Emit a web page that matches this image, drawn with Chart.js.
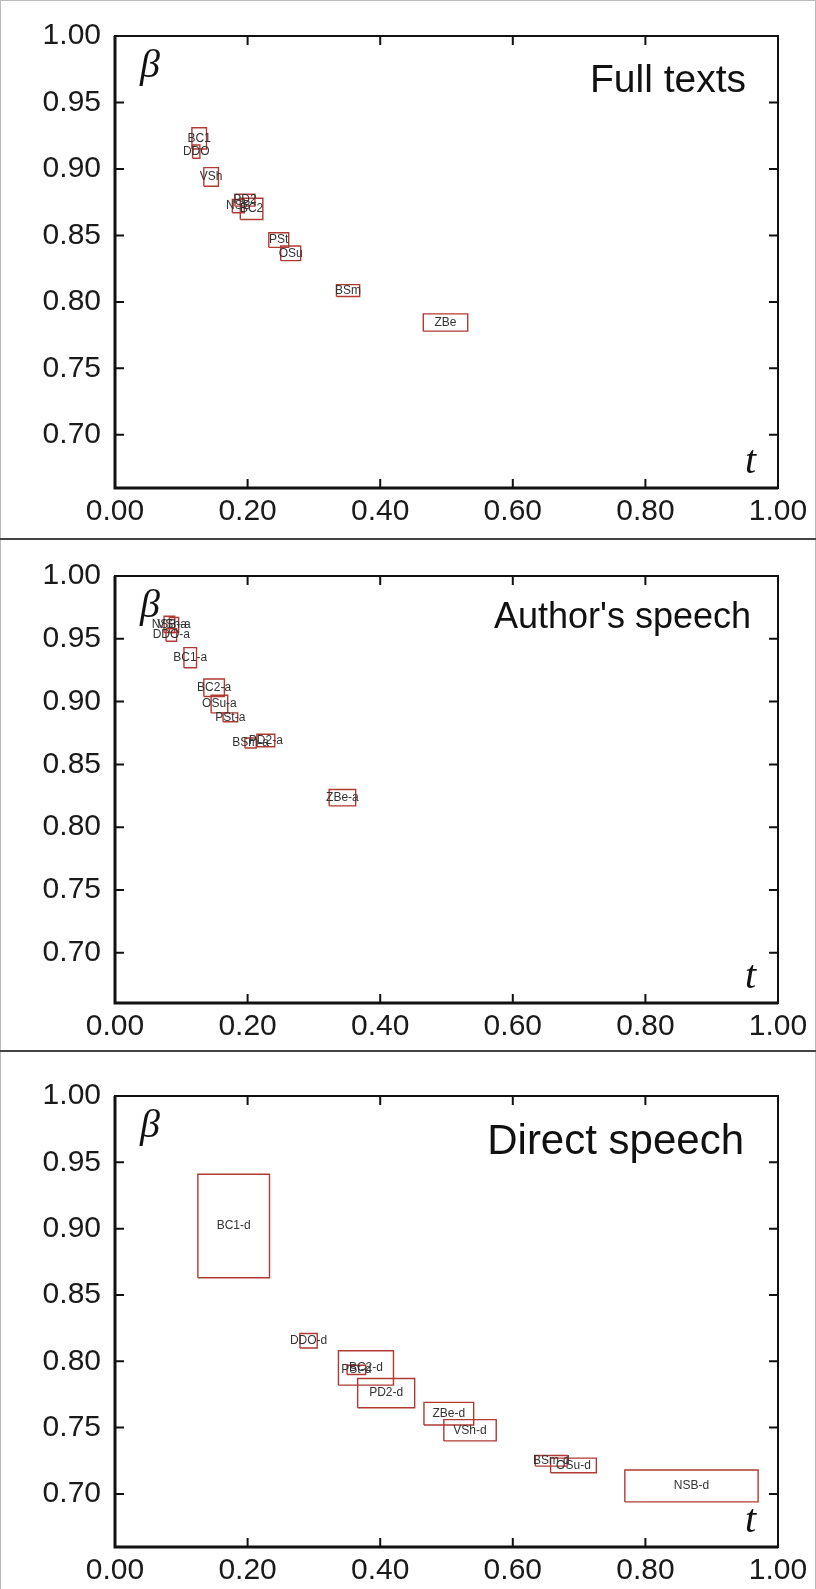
<!DOCTYPE html>
<html>
<head>
<meta charset="utf-8">
<script src="https://cdn.jsdelivr.net/npm/chart.js@4/dist/chart.umd.min.js"></script>
<style>
  body { margin: 0; background: #fff; }
  #lienzo { position: relative; width: 816px; height: 1589px; overflow: hidden; }
  .panel { position: absolute; left: 0; width: 816px; }
  .linea { position: absolute; background: #444; }
</style>
</head>
<body>
<div id="lienzo">
  <div class="panel" style="top:0;height:539px"><canvas id="grafico1"></canvas></div>
  <div class="panel" style="top:539px;height:512px"><canvas id="grafico2"></canvas></div>
  <div class="panel" style="top:1051px;height:538px"><canvas id="grafico3"></canvas></div>
  <div class="linea" style="left:0;top:0;width:816px;height:1px;background:#bbb"></div>
  <div class="linea" style="left:0;top:0;width:1px;height:1589px;background:#bbb"></div>
  <div class="linea" style="left:815px;top:0;width:1px;height:1589px;background:#bbb"></div>
  <div class="linea" style="left:0;top:538px;width:816px;height:2px"></div>
  <div class="linea" style="left:0;top:1050px;width:816px;height:2px"></div>
</div>
<script>
// ejes
const xTicks = [0.00, 0.20, 0.40, 0.60, 0.80, 1.00];
const yTicks = [0.70, 0.75, 0.80, 0.85, 0.90, 0.95, 1.00];

// Full texts
const fullNames = ['BC1', 'DDO', 'VSh', 'NSB', 'PD2', 'BC2', 'PSt', 'OSu', 'BSm', 'ZBe'];
const fullTMin = [0.116, 0.117, 0.134, 0.177, 0.181, 0.189, 0.232, 0.250, 0.334, 0.465];
const fullTMax = [0.138, 0.128, 0.156, 0.195, 0.211, 0.223, 0.262, 0.280, 0.369, 0.532];
const fullBMin = [0.915, 0.908, 0.887, 0.867, 0.872, 0.862, 0.841, 0.831, 0.804, 0.778];
const fullBMax = [0.931, 0.918, 0.901, 0.877, 0.881, 0.878, 0.852, 0.842, 0.813, 0.791];

// Author's speech
const authorNames = ['NSB-a', 'VSh-a', 'DDO-a', 'BC1-a', 'BC2-a', 'OSu-a', 'PSt-a', 'BSm-a', 'PD2-a', 'ZBe-a'];
const authorTMin = [0.074, 0.082, 0.077, 0.104, 0.134, 0.145, 0.163, 0.196, 0.214, 0.323];
const authorTMax = [0.090, 0.096, 0.093, 0.123, 0.165, 0.170, 0.185, 0.213, 0.241, 0.363];
const authorBMin = [0.955, 0.955, 0.948, 0.927, 0.904, 0.891, 0.884, 0.863, 0.864, 0.817];
const authorBMax = [0.968, 0.967, 0.958, 0.943, 0.918, 0.905, 0.891, 0.871, 0.874, 0.830];

// Direct speech
const directNames = ['BC1-d', 'DDO-d', 'BC2-d', 'PSt-d', 'PD2-d', 'ZBe-d', 'VSh-d', 'BSm-d', 'OSu-d', 'NSB-d'];
const directTMin = [0.125, 0.279, 0.337, 0.350, 0.366, 0.466, 0.496, 0.634, 0.657, 0.769];
const directTMax = [0.233, 0.305, 0.420, 0.378, 0.452, 0.541, 0.575, 0.682, 0.726, 0.970];
const directBMin = [0.863, 0.810, 0.782, 0.790, 0.765, 0.752, 0.740, 0.721, 0.716, 0.694];
const directBMax = [0.941, 0.821, 0.808, 0.797, 0.787, 0.769, 0.756, 0.729, 0.727, 0.718];

const fuenteTexto = '"Liberation Sans", Arial, sans-serif';

// marco, marcas hacia dentro, rotulos de cada caja y titulos
const marcoPlugin = {
    id: 'marco',
    afterDatasetsDraw(chart, args, opts) {
        const ctx = chart.ctx;
        const a = chart.chartArea;
        const sx = chart.scales.x;
        const sy = chart.scales.y;
        ctx.save();

        ctx.strokeStyle = '#111';
        ctx.lineWidth = 2;
        ctx.strokeRect(a.left, a.top, a.right - a.left, a.bottom - a.top);
        ctx.lineWidth = 3;
        ctx.beginPath();
        ctx.moveTo(a.left, a.top);
        ctx.lineTo(a.left, a.bottom);
        ctx.lineTo(a.right, a.bottom);
        ctx.stroke();

        ctx.lineWidth = 2;
        ctx.beginPath();
        xTicks.forEach(v => {
            const px = sx.getPixelForValue(v);
            ctx.moveTo(px, a.bottom); ctx.lineTo(px, a.bottom - 9);
            ctx.moveTo(px, a.top); ctx.lineTo(px, a.top + 9);
        });
        yTicks.forEach(v => {
            const py = sy.getPixelForValue(v);
            ctx.moveTo(a.left, py); ctx.lineTo(a.left + 9, py);
            ctx.moveTo(a.right, py); ctx.lineTo(a.right - 9, py);
        });
        ctx.stroke();

        // rotulos en el centro de cada caja
        ctx.fillStyle = '#333';
        ctx.font = '12px ' + fuenteTexto;
        ctx.textAlign = 'center';
        ctx.textBaseline = 'middle';
        opts.names.forEach((n, i) => {
            const cx = sx.getPixelForValue((opts.tMin[i] + opts.tMax[i]) / 2);
            const cy = sy.getPixelForValue((opts.bMin[i] + opts.bMax[i]) / 2);
            ctx.fillText(n, cx, cy);
        });

        ctx.fillStyle = '#111';
        ctx.font = opts.titleSize + 'px ' + fuenteTexto;
        ctx.textAlign = 'right';
        ctx.fillText(opts.title, opts.titleRight, a.top + opts.titleDy);

        ctx.font = 'italic 40px "Liberation Serif", "DejaVu Serif", serif';
        ctx.textAlign = 'left';
        ctx.fillText('\u03B2', a.left + 25, a.top + 30);
        ctx.fillText('t', a.right - 33, a.bottom - 26);
        ctx.restore();
    }
};

function cajas(tMin, tMax, bMin, bMax) {
    return tMin.map((t0, i) => ({
        data: [
            {x: t0, y: bMin[i]}, {x: tMax[i], y: bMin[i]}, {x: tMax[i], y: bMax[i]},
            {x: t0, y: bMax[i]}, {x: t0, y: bMin[i]}
        ],
        showLine: true,
        borderColor: '#b13a33',
        borderWidth: 1.4,
        pointRadius: 0,
        fill: false,
        tension: 0
    }));
}

function crearGrafico(id, p) {
    new Chart(document.getElementById(id), {
        type: 'scatter',
        data: { datasets: cajas(p.tMin, p.tMax, p.bMin, p.bMax) },
        options: {
            animation: false,
            responsive: true,
            maintainAspectRatio: false,
            layout: { padding: { top: p.top, right: 38, left: 0, bottom: 0 } },
            plugins: {
                legend: { display: false },
                tooltip: { enabled: false },
                marco: p
            },
            scales: {
                x: {
                    type: 'linear', min: 0, max: 1,
                    afterBuildTicks: s => { s.ticks = xTicks.map(v => ({ value: v })); },
                    afterFit: s => { s.height = p.xHeight; },
                    grid: { display: false, drawTicks: false },
                    border: { display: false },
                    ticks: {
                        padding: 6, color: '#1a1a1a', maxRotation: 0,
                        font: { family: fuenteTexto, size: 30 },
                        callback: v => v.toFixed(2)
                    }
                },
                y: {
                    type: 'linear', min: 0.66, max: 1,
                    afterBuildTicks: s => { s.ticks = yTicks.map(v => ({ value: v })); },
                    afterFit: s => { s.width = 115; },
                    grid: { display: false, drawTicks: false },
                    border: { display: false },
                    ticks: {
                        padding: 14, color: '#1a1a1a',
                        font: { family: fuenteTexto, size: 30 },
                        callback: v => v.toFixed(2)
                    }
                }
            }
        },
        plugins: [marcoPlugin]
    });
}

crearGrafico('grafico1', {
    names: fullNames, tMin: fullTMin, tMax: fullTMax, bMin: fullBMin, bMax: fullBMax,
    title: 'Full texts', titleSize: 39, titleRight: 746, titleDy: 45, top: 36, xHeight: 51
});
crearGrafico('grafico2', {
    names: authorNames, tMin: authorTMin, tMax: authorTMax, bMin: authorBMin, bMax: authorBMax,
    title: 'Author\'s speech', titleSize: 36, titleRight: 751, titleDy: 42, top: 37, xHeight: 48
});
crearGrafico('grafico3', {
    names: directNames, tMin: directTMin, tMax: directTMax, bMin: directBMin, bMax: directBMax,
    title: 'Direct speech', titleSize: 42, titleRight: 744, titleDy: 46, top: 45, xHeight: 42
});
</script>
</body>
</html>
